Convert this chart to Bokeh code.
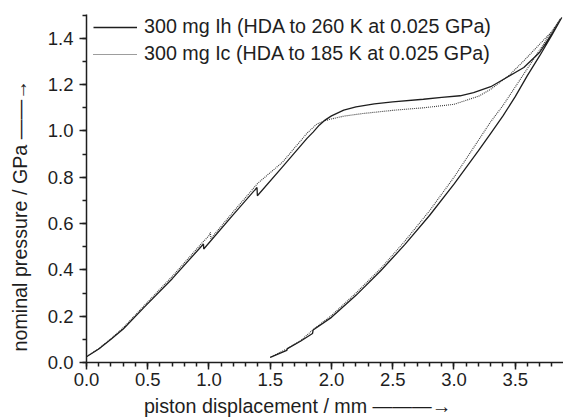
from bokeh.plotting import figure
from bokeh.models import (Range1d, FixedTicker, NumeralTickFormatter, Legend, LegendItem,
                          ColumnDataSource)
from bokeh.embed import file_html
from bokeh.resources import INLINE

# ---- data ----
ih_load_x = [0.0, 0.1, 0.2, 0.3, 0.47, 0.7, 0.955, 0.957, 1.2, 1.392, 1.395, 1.6, 1.8, 1.85, 1.9,
             1.95, 2.0, 2.1, 2.2, 2.35, 2.5, 2.75, 2.9, 3.05, 3.16, 3.3, 3.43, 3.57, 3.7, 3.8, 3.88]
ih_load_y = [0.025, 0.058, 0.1, 0.145, 0.238, 0.362, 0.512, 0.49, 0.64, 0.756, 0.72, 0.845, 0.968, 0.995, 1.025,
             1.048, 1.065, 1.09, 1.104, 1.117, 1.126, 1.137, 1.145, 1.152, 1.166, 1.191, 1.231, 1.274, 1.34, 1.42, 1.49]
ih_unload_x = [3.88, 3.8, 3.7, 3.6, 3.5, 3.4, 3.3, 3.2, 3.0, 2.8, 2.6, 2.4, 2.2, 2.0, 1.85, 1.845,
               1.75, 1.64, 1.635, 1.5]
ih_unload_y = [1.49, 1.415, 1.325, 1.24, 1.148, 1.065, 0.99, 0.915, 0.77, 0.635, 0.51, 0.395, 0.29, 0.195, 0.14, 0.125,
               0.093, 0.06, 0.052, 0.022]

ic_load_x = [0.0, 0.1, 0.2, 0.3, 0.47, 0.7, 0.95, 1.0, 1.012, 1.015, 1.2, 1.4, 1.6, 1.8, 1.88,
             1.95, 2.0, 2.1, 2.25, 2.5, 2.75, 3.0, 3.2, 3.3, 3.45, 3.57, 3.7, 3.8, 3.87]
ic_load_y = [0.025, 0.06, 0.103, 0.15, 0.245, 0.372, 0.52, 0.548, 0.562, 0.535, 0.652, 0.775, 0.865, 0.99, 1.03,
             1.045, 1.052, 1.064, 1.075, 1.089, 1.1, 1.115, 1.15, 1.18, 1.24, 1.303, 1.375, 1.43, 1.485]
ic_unload_x = [3.87, 3.8, 3.7, 3.6, 3.5, 3.4, 3.3, 3.2, 3.0, 2.8, 2.6, 2.4, 2.2, 2.0, 1.85, 1.75, 1.64, 1.5]
ic_unload_y = [1.485, 1.43, 1.35, 1.27, 1.19, 1.11, 1.04, 0.96, 0.8, 0.655, 0.525, 0.405, 0.3, 0.203, 0.142,
               0.095, 0.06, 0.022]

series_labels = ["300 mg Ih (HDA to 260 K at 0.025 GPa)",
                 "300 mg Ic (HDA to 185 K at 0.025 GPa)"]
x_major = [0.0, 0.5, 1.0, 1.5, 2.0, 2.5, 3.0, 3.5]
x_minor = [i / 10 for i in range(0, 39)]
y_major = [0.0, 0.2, 0.4, 0.6, 0.8, 1.0, 1.2, 1.4]
y_minor = [i / 10 for i in range(0, 16)]
NBSP = "\u00a0"
x_label = "piston displacement / mm \u2014\u2014\u2014\u2192" + NBSP * 10
y_label = "nominal pressure / GPa \u2014\u2014\u2192" + NBSP * 10

FONT = "Liberation Sans"
INK = "#1e1e1e"
TXT = "19.7px"

p = figure(width=563, height=419, output_backend="svg", toolbar_location=None,
           x_range=Range1d(0, 3.894), y_range=Range1d(0, 1.503),
           min_border_left=86, min_border_right=0, min_border_top=14, min_border_bottom=57)
p.outline_line_color = None
p.xgrid.visible = False
p.ygrid.visible = False
p.background_fill_color = "white"
p.border_fill_color = "white"

for ax, maj, mnr in ((p.xaxis[0], x_major, x_minor), (p.yaxis[0], y_major, y_minor)):
    ax.ticker = FixedTicker(ticks=maj, minor_ticks=mnr)
    ax.formatter = NumeralTickFormatter(format="0.0")
    ax.axis_line_color = INK
    ax.axis_line_width = 1.5
    ax.major_tick_line_color = INK
    ax.major_tick_line_width = 1.5
    ax.minor_tick_line_color = INK
    ax.minor_tick_line_width = 1.5
    ax.major_tick_out = 7
    ax.major_tick_in = 0
    ax.minor_tick_out = 4
    ax.minor_tick_in = 0
    ax.major_label_text_font = FONT
    ax.major_label_text_font_size = "18.5px"
    ax.major_label_text_color = INK
    ax.axis_label_text_font = FONT
    ax.axis_label_text_font_size = TXT
    ax.axis_label_text_font_style = "normal"
    ax.axis_label_text_color = INK

p.xaxis[0].axis_label = x_label
p.yaxis[0].axis_label = y_label
p.xaxis[0].major_label_standoff = 3
p.xaxis[0].axis_label_standoff = 6
p.yaxis[0].major_label_standoff = 6
p.yaxis[0].axis_label_standoff = 14

src_ih = ColumnDataSource(dict(x=ih_load_x + ih_unload_x, y=ih_load_y + ih_unload_y))
src_ic = ColumnDataSource(dict(x=ic_load_x + ic_unload_x, y=ic_load_y + ic_unload_y))
r_ic = p.line("x", "y", source=src_ic, line_color="#3a3a3a", line_width=1.1, line_dash="1 1")
r_ih = p.line("x", "y", source=src_ih, line_color=INK, line_width=1.3)

legend = Legend(items=[LegendItem(label=series_labels[0], renderers=[r_ih]),
                       LegendItem(label=series_labels[1], renderers=[r_ic])],
                location=(7, 297), border_line_color=None, background_fill_alpha=0,
                padding=0, spacing=4, glyph_width=44, glyph_height=22, label_height=22,
                label_standoff=7, label_text_font=FONT, label_text_font_size=TXT,
                label_text_color=INK)
p.add_layout(legend)

open("out.html", "w").write(file_html(p, INLINE))
